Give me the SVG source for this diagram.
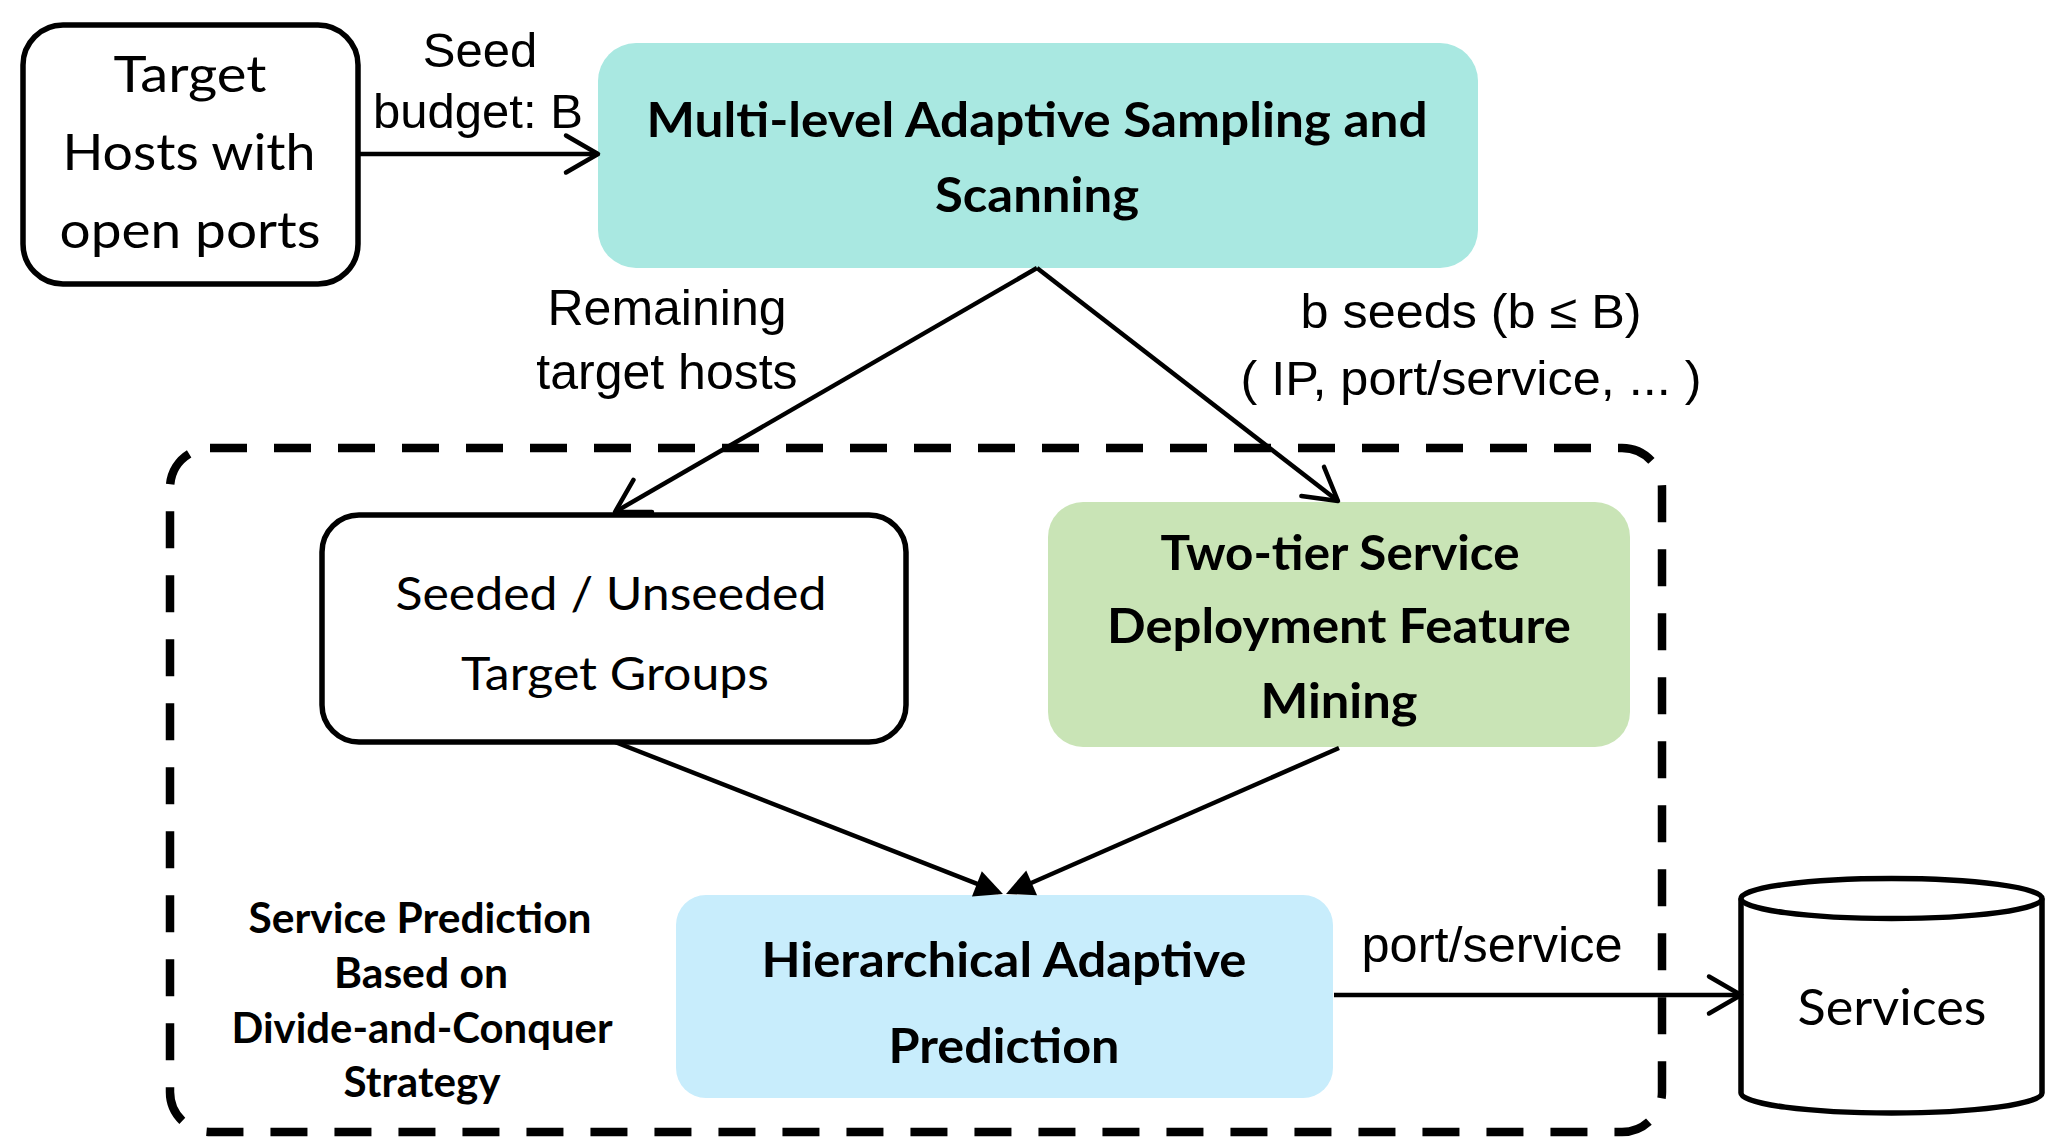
<svg xmlns="http://www.w3.org/2000/svg" width="2048" height="1141" viewBox="0 0 2048 1141">
<style>
.cal{font-family:Lato,"Noto Sans",sans-serif;fill:#000;text-anchor:middle}
.b{font-weight:bold}
.ar{font-family:"Liberation Sans",Arial,sans-serif;fill:#000;text-anchor:middle}
.box{stroke:#000;stroke-width:5.5;fill:#fff}
.ln{stroke:#000;stroke-width:4.5;fill:none}
</style>
<defs>
<marker id="open" markerUnits="userSpaceOnUse" viewBox="-40 -25 50 50" markerWidth="50" markerHeight="50" refX="0" refY="0" orient="auto" overflow="visible">
<path d="M-32,-18.5 L0,0 L-32,18.5" fill="none" stroke="#000" stroke-width="4.5" stroke-linecap="round" stroke-linejoin="round"/>
</marker>
<marker id="fill" markerUnits="userSpaceOnUse" viewBox="-30 -20 40 40" markerWidth="40" markerHeight="40" refX="0" refY="0" orient="auto" overflow="visible">
<path d="M5,0 L-23,-13.5 L-23,13.5 Z" fill="#000"/>
</marker>
</defs>

<g id="frame">
<rect x="170" y="448" width="1492" height="684" rx="40" ry="40" fill="none" stroke="#000" stroke-width="8.5" stroke-dasharray="37 27"/>
</g>

<g id="target-hosts">
<rect class="box" x="23" y="25" width="335" height="259" rx="40" ry="40"/>
<text class="cal" font-size="51" x="190" y="92" textLength="153" lengthAdjust="spacingAndGlyphs">Target</text>
<text class="cal" font-size="51" x="189" y="170" textLength="253" lengthAdjust="spacingAndGlyphs">Hosts with</text>
<text class="cal" font-size="51" x="190" y="248" textLength="261" lengthAdjust="spacingAndGlyphs">open ports</text>
</g>

<g id="mlas">
<rect x="598" y="43" width="880" height="225" rx="38" ry="38" fill="#a9e8e1"/>
<text class="cal b" font-size="48" x="1037" y="137" textLength="781" lengthAdjust="spacingAndGlyphs">Multi-level Adaptive Sampling and</text>
<text class="cal b" font-size="48" x="1037" y="212" textLength="204" lengthAdjust="spacingAndGlyphs">Scanning</text>
</g>

<g id="seeded">
<rect class="box" x="322" y="515" width="584" height="227" rx="37" ry="37"/>
<text class="cal" font-size="46" x="611" y="610" textLength="431" lengthAdjust="spacingAndGlyphs">Seeded / Unseeded</text>
<text class="cal" font-size="46" x="615" y="690" textLength="308" lengthAdjust="spacingAndGlyphs">Target Groups</text>
</g>

<g id="two-tier">
<rect x="1048" y="502" width="582" height="245" rx="35" ry="35" fill="#c9e4b6"/>
<text class="cal b" font-size="48" x="1340" y="570" textLength="359" lengthAdjust="spacingAndGlyphs">Two-tier Service</text>
<text class="cal b" font-size="48" x="1339" y="643" textLength="464" lengthAdjust="spacingAndGlyphs">Deployment Feature</text>
<text class="cal b" font-size="48" x="1339" y="718" textLength="157" lengthAdjust="spacingAndGlyphs">Mining</text>
</g>

<g id="hierarchical">
<rect x="676" y="895" width="657" height="203" rx="30" ry="30" fill="#c8edfc"/>
<text class="cal b" font-size="48" x="1004" y="977" textLength="485" lengthAdjust="spacingAndGlyphs">Hierarchical Adaptive</text>
<text class="cal b" font-size="48" x="1004" y="1063" textLength="231" lengthAdjust="spacingAndGlyphs">Prediction</text>
</g>

<g id="strategy-label">
<text class="cal b" font-size="42" x="420" y="933" textLength="343" lengthAdjust="spacingAndGlyphs">Service Prediction</text>
<text class="cal b" font-size="42" x="421" y="988" textLength="174" lengthAdjust="spacingAndGlyphs">Based on</text>
<text class="cal b" font-size="42" x="422" y="1043" textLength="381" lengthAdjust="spacingAndGlyphs">Divide-and-Conquer</text>
<text class="cal b" font-size="42" x="422" y="1097" textLength="157" lengthAdjust="spacingAndGlyphs">Strategy</text>
</g>

<g id="services">
<path class="box" stroke-width="5" d="M1741,898.5 L1741,1093 A150.5,20 0 0 0 2042,1093 L2042,898.5"/>
<ellipse class="box" stroke-width="5" cx="1891.5" cy="898.5" rx="150.5" ry="20"/>
<text class="cal" font-size="51" x="1892" y="1025" textLength="189" lengthAdjust="spacingAndGlyphs">Services</text>
</g>

<g id="connectors">
<path class="ln" d="M358,154 L598,154" marker-end="url(#open)"/>
<path class="ln" d="M1037,268 L615,512" marker-end="url(#open)"/>
<path class="ln" d="M1037,268 L1338,501" marker-end="url(#open)"/>
<path class="ln" d="M615,742 L998.3,892.2" marker-end="url(#fill)"/>
<path class="ln" d="M1339,748 L1010.6,892" marker-end="url(#fill)"/>
<path class="ln" d="M1334,995 L1741,995" marker-end="url(#open)"/>
</g>

<g id="labels">
<text class="ar" font-size="49" x="480" y="67">Seed</text>
<text class="ar" font-size="49" x="478" y="128">budget: B</text>
<text class="ar" font-size="50" x="667" y="325">Remaining</text>
<text class="ar" font-size="50" x="667" y="389">target hosts</text>
<text class="ar" font-size="48" x="1471" y="328" textLength="341" lengthAdjust="spacingAndGlyphs">b seeds (b ≤ B)</text>
<text class="ar" font-size="48" x="1471" y="395" textLength="461" lengthAdjust="spacingAndGlyphs">( IP, port/service, ... )</text>
<text class="ar" font-size="50" x="1492" y="962" textLength="261" lengthAdjust="spacingAndGlyphs">port/service</text>
</g>
</svg>
